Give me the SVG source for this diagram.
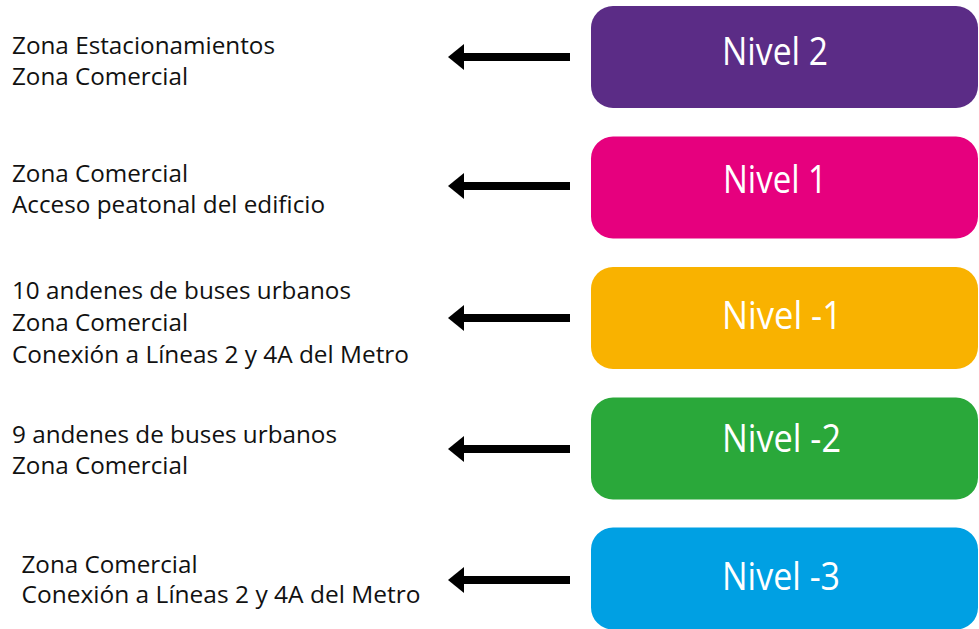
<svg xmlns="http://www.w3.org/2000/svg" width="979" height="629" viewBox="0 0 979 629">
  <style>
    .lbl { font-family: "Open Sans", "Noto Sans", sans-serif; font-size: 24px; fill: #111111; }
    .lvl { font-family: "Open Sans", "Noto Sans", sans-serif; font-size: 39px; fill: #ffffff; }
    .conn { stroke: #000000; stroke-width: 8; fill: none; marker-end: url(#head); }
  </style>
  <defs>
    <marker id="head" markerUnits="userSpaceOnUse" viewBox="0 0 16 26" markerWidth="16" markerHeight="26" refX="2" refY="13" orient="auto">
      <path d="M0,0 L16,13 L0,26 z" fill="#000000"/>
    </marker>
  </defs>
  <rect width="979" height="629" fill="#ffffff"/>

  <g id="nivel2">
    <rect x="591" y="6" width="387" height="102" rx="22" fill="#5B2C86"/>
    <text class="lvl" x="722" y="65" textLength="106" lengthAdjust="spacingAndGlyphs">Nivel 2</text>
  </g>
  <g id="nivel1">
    <rect x="591" y="136.5" width="387" height="102" rx="22" fill="#E6007E"/>
    <text class="lvl" x="723" y="193" textLength="104" lengthAdjust="spacingAndGlyphs">Nivel 1</text>
  </g>
  <g id="nivel-1">
    <rect x="591" y="267" width="387" height="102" rx="22" fill="#F9B200"/>
    <text class="lvl" x="722" y="329" textLength="120" lengthAdjust="spacingAndGlyphs">Nivel -1</text>
  </g>
  <g id="nivel-2">
    <rect x="591" y="397.5" width="387" height="102" rx="22" fill="#2AA83A"/>
    <text class="lvl" x="722" y="452" textLength="119" lengthAdjust="spacingAndGlyphs">Nivel -2</text>
  </g>
  <g id="nivel-3">
    <rect x="591" y="527.5" width="387" height="102" rx="22" fill="#00A0E3"/>
    <text class="lvl" x="722" y="590" textLength="118" lengthAdjust="spacingAndGlyphs">Nivel -3</text>
  </g>

  <g id="desc2">
    <text class="lbl" x="12" y="53.5" textLength="263" lengthAdjust="spacingAndGlyphs">Zona Estacionamientos</text>
    <text class="lbl" x="12" y="85" textLength="176" lengthAdjust="spacingAndGlyphs">Zona Comercial</text>
  </g>
  <g id="desc1">
    <text class="lbl" x="12" y="182" textLength="176" lengthAdjust="spacingAndGlyphs">Zona Comercial</text>
    <text class="lbl" x="12" y="212.5" textLength="313" lengthAdjust="spacingAndGlyphs">Acceso peatonal del edificio</text>
  </g>
  <g id="desc-1">
    <text class="lbl" x="12" y="299" textLength="339" lengthAdjust="spacingAndGlyphs">10 andenes de buses urbanos</text>
    <text class="lbl" x="12" y="331" textLength="176" lengthAdjust="spacingAndGlyphs">Zona Comercial</text>
    <text class="lbl" x="12" y="363" textLength="397" lengthAdjust="spacingAndGlyphs">Conexión a Líneas 2 y 4A del Metro</text>
  </g>
  <g id="desc-2">
    <text class="lbl" x="12" y="442.5" textLength="325" lengthAdjust="spacingAndGlyphs">9 andenes de buses urbanos</text>
    <text class="lbl" x="12" y="474" textLength="176" lengthAdjust="spacingAndGlyphs">Zona Comercial</text>
  </g>
  <g id="desc-3">
    <text class="lbl" x="21.5" y="573" textLength="176" lengthAdjust="spacingAndGlyphs">Zona Comercial</text>
    <text class="lbl" x="21.5" y="603" textLength="399" lengthAdjust="spacingAndGlyphs">Conexión a Líneas 2 y 4A del Metro</text>
  </g>

  <g id="connectors">
    <line class="conn" x1="570" y1="57" x2="462" y2="57"/>
    <line class="conn" x1="570" y1="186" x2="462" y2="186"/>
    <line class="conn" x1="570" y1="318" x2="462" y2="318"/>
    <line class="conn" x1="570" y1="449" x2="462" y2="449"/>
    <line class="conn" x1="570" y1="580" x2="462" y2="580"/>
  </g>
</svg>
